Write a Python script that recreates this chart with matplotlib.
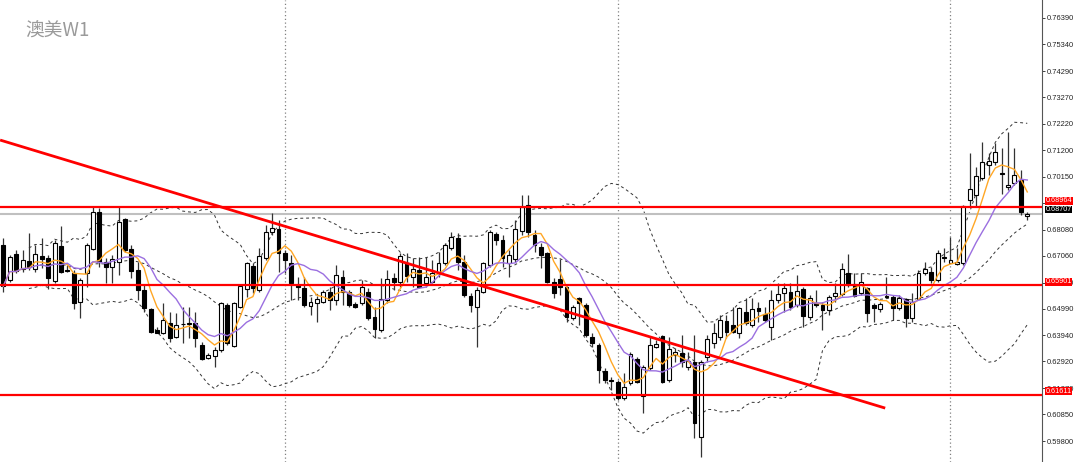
import numpy as np
import pandas as pd
import matplotlib
matplotlib.use('Agg')
import matplotlib.pyplot as plt
import matplotlib.transforms as mtransforms

plt.rcParams['font.family'] = ['Liberation Sans', 'DejaVu Sans']

# AUDUSD weekly candles, oldest first
opens = [0.6748, 0.6611, 0.6713, 0.6654, 0.6685, 0.6654, 0.6705, 0.6697, 0.6607, 0.6744,
         0.6650, 0.6638, 0.6525, 0.6638, 0.6732, 0.6877, 0.6681, 0.6662, 0.6681, 0.6850,
         0.6732, 0.6650, 0.6572, 0.6497, 0.6415, 0.6403, 0.6442, 0.6388, 0.6440, 0.6438,
         0.6442, 0.6356, 0.6305, 0.6313, 0.6337, 0.6513, 0.6352, 0.6505, 0.6575, 0.6666,
         0.6572, 0.6697, 0.6799, 0.6811, 0.6717, 0.6677, 0.6591, 0.6579, 0.6509, 0.6521,
         0.6525, 0.6564, 0.6533, 0.6623, 0.6564, 0.6517, 0.6521, 0.6564, 0.6466, 0.6415,
         0.6533, 0.6619, 0.6603, 0.6677, 0.6623, 0.6650, 0.6599, 0.6603, 0.6638, 0.6677,
         0.6736, 0.6775, 0.6681, 0.6548, 0.6505, 0.6564, 0.6670, 0.6791, 0.6768, 0.6677,
         0.6693, 0.6803, 0.6905, 0.6787, 0.6740, 0.6717, 0.6603, 0.6615, 0.6583, 0.6462,
         0.6540, 0.6513, 0.6388, 0.6356, 0.6254, 0.6219, 0.6211, 0.6148, 0.6207, 0.6301,
         0.6156, 0.6266, 0.6349, 0.6392, 0.6219, 0.6317, 0.6325, 0.6270, 0.6290, 0.5996,
         0.6309, 0.6364, 0.6388, 0.6450, 0.6434, 0.6403, 0.6486, 0.6434, 0.6501, 0.6478,
         0.6427, 0.6533, 0.6560, 0.6564, 0.6513, 0.6575, 0.6466, 0.6521, 0.6513, 0.6493,
         0.6548, 0.6556, 0.6638, 0.6595, 0.6560, 0.6579, 0.6513, 0.6497, 0.6548, 0.6544,
         0.6501, 0.6536, 0.6462, 0.6536, 0.6638, 0.6642, 0.6611, 0.6701, 0.6677, 0.6673,
         0.6677, 0.6924, 0.6944, 0.7010, 0.7061, 0.7073, 0.7030, 0.6975, 0.6991, 0.7003, 0.6861]
highs = [0.6775, 0.6709, 0.6728, 0.6728, 0.6795, 0.6748, 0.6775, 0.6709, 0.6768, 0.6823,
         0.6670, 0.6650, 0.6619, 0.6756, 0.6897, 0.6893, 0.6697, 0.6709, 0.6897, 0.6854,
         0.6748, 0.6681, 0.6591, 0.6501, 0.6427, 0.6521, 0.6486, 0.6482, 0.6505, 0.6505,
         0.6486, 0.6368, 0.6325, 0.6349, 0.6525, 0.6521, 0.6525, 0.6591, 0.6681, 0.6677,
         0.6736, 0.6826, 0.6873, 0.6846, 0.6728, 0.6709, 0.6623, 0.6623, 0.6544, 0.6548,
         0.6572, 0.6583, 0.6670, 0.6650, 0.6572, 0.6525, 0.6611, 0.6579, 0.6505, 0.6619,
         0.6650, 0.6638, 0.6717, 0.6717, 0.6697, 0.6701, 0.6701, 0.6689, 0.6721, 0.6756,
         0.6799, 0.6795, 0.6709, 0.6560, 0.6583, 0.6681, 0.6807, 0.6799, 0.6787, 0.6728,
         0.6846, 0.6944, 0.6944, 0.6807, 0.6756, 0.6721, 0.6619, 0.6693, 0.6587, 0.6513,
         0.6544, 0.6521, 0.6403, 0.6364, 0.6266, 0.6231, 0.6219, 0.6246, 0.6329, 0.6309,
         0.6278, 0.6388, 0.6376, 0.6395, 0.6388, 0.6345, 0.6395, 0.6329, 0.6395, 0.6298,
         0.6395, 0.6442, 0.6474, 0.6474, 0.6505, 0.6505, 0.6540, 0.6540, 0.6525, 0.6505,
         0.6572, 0.6599, 0.6599, 0.6599, 0.6630, 0.6583, 0.6552, 0.6572, 0.6525, 0.6552,
         0.6599, 0.6677, 0.6713, 0.6638, 0.6638, 0.6583, 0.6521, 0.6525, 0.6623, 0.6552,
         0.6552, 0.6540, 0.6560, 0.6650, 0.6681, 0.6662, 0.6728, 0.6736, 0.6779, 0.6736,
         0.6905, 0.7108, 0.7053, 0.7151, 0.7108, 0.7147, 0.7128, 0.7191, 0.7128, 0.7042, 0.6877]
lows = [0.6564, 0.6603, 0.6638, 0.6642, 0.6650, 0.6642, 0.6658, 0.6575, 0.6599, 0.6638,
        0.6642, 0.6497, 0.6462, 0.6583, 0.6728, 0.6662, 0.6599, 0.6599, 0.6630, 0.6721,
        0.6619, 0.6533, 0.6486, 0.6403, 0.6403, 0.6399, 0.6368, 0.6384, 0.6364, 0.6384,
        0.6349, 0.6298, 0.6301, 0.6270, 0.6329, 0.6356, 0.6349, 0.6501, 0.6544, 0.6560,
        0.6564, 0.6689, 0.6787, 0.6642, 0.6638, 0.6533, 0.6533, 0.6505, 0.6474, 0.6446,
        0.6521, 0.6493, 0.6513, 0.6513, 0.6505, 0.6501, 0.6513, 0.6454, 0.6384, 0.6407,
        0.6521, 0.6572, 0.6583, 0.6603, 0.6583, 0.6579, 0.6583, 0.6599, 0.6623, 0.6670,
        0.6728, 0.6650, 0.6544, 0.6486, 0.6349, 0.6560, 0.6662, 0.6748, 0.6662, 0.6623,
        0.6681, 0.6787, 0.6779, 0.6721, 0.6658, 0.6599, 0.6540, 0.6552, 0.6446, 0.6454,
        0.6434, 0.6388, 0.6349, 0.6207, 0.6207, 0.6180, 0.6141, 0.6141, 0.6199, 0.6207,
        0.6090, 0.6258, 0.6345, 0.6207, 0.6211, 0.6290, 0.6270, 0.6258, 0.5992, 0.5918,
        0.6290, 0.6345, 0.6376, 0.6384, 0.6403, 0.6384, 0.6434, 0.6427, 0.6446, 0.6446,
        0.6376, 0.6521, 0.6486, 0.6493, 0.6505, 0.6427, 0.6454, 0.6505, 0.6415, 0.6474,
        0.6525, 0.6548, 0.6583, 0.6544, 0.6552, 0.6446, 0.6446, 0.6486, 0.6540, 0.6454,
        0.6493, 0.6427, 0.6446, 0.6533, 0.6630, 0.6599, 0.6603, 0.6681, 0.6677, 0.6670,
        0.6670, 0.6897, 0.6901, 0.7003, 0.7022, 0.7061, 0.6948, 0.6963, 0.6983, 0.6865, 0.6846]
closes = [0.6587, 0.6700, 0.6646, 0.6689, 0.6662, 0.6713, 0.6693, 0.6619, 0.6756, 0.6642,
          0.6646, 0.6521, 0.6611, 0.6748, 0.6877, 0.6681, 0.6662, 0.6693, 0.6838, 0.6728,
          0.6646, 0.6572, 0.6501, 0.6407, 0.6403, 0.6454, 0.6384, 0.6434, 0.6438, 0.6442,
          0.6384, 0.6301, 0.6317, 0.6337, 0.6521, 0.6364, 0.6521, 0.6587, 0.6677, 0.6579,
          0.6705, 0.6799, 0.6815, 0.6717, 0.6689, 0.6599, 0.6583, 0.6513, 0.6525, 0.6536,
          0.6564, 0.6533, 0.6630, 0.6564, 0.6513, 0.6505, 0.6583, 0.6462, 0.6419, 0.6536,
          0.6615, 0.6603, 0.6705, 0.6627, 0.6654, 0.6583, 0.6623, 0.6638, 0.6677, 0.6748,
          0.6779, 0.6681, 0.6552, 0.6513, 0.6572, 0.6677, 0.6799, 0.6768, 0.6697, 0.6709,
          0.6811, 0.6897, 0.6799, 0.6748, 0.6709, 0.6603, 0.6560, 0.6583, 0.6466, 0.6505,
          0.6521, 0.6395, 0.6364, 0.6258, 0.6219, 0.6215, 0.6148, 0.6191, 0.6321, 0.6211,
          0.6270, 0.6356, 0.6360, 0.6211, 0.6341, 0.6329, 0.6290, 0.6294, 0.6051, 0.6290,
          0.6380, 0.6403, 0.6454, 0.6407, 0.6407, 0.6501, 0.6442, 0.6497, 0.6490, 0.6454,
          0.6533, 0.6556, 0.6579, 0.6505, 0.6568, 0.6470, 0.6540, 0.6513, 0.6493, 0.6544,
          0.6560, 0.6654, 0.6591, 0.6548, 0.6603, 0.6482, 0.6501, 0.6517, 0.6546, 0.6501,
          0.6540, 0.6462, 0.6525, 0.6638, 0.6654, 0.6611, 0.6717, 0.6697, 0.6689, 0.6681,
          0.6901, 0.6967, 0.7018, 0.7073, 0.7077, 0.7112, 0.7026, 0.6983, 0.7022, 0.6877, 0.6871]

# horizontal levels, current bid, trend line, year separators (bar index)
levels = [0.68964, 0.65901, 0.61611]
bid = 0.68707
trend_x = [-0.5, 137.8]
trend_y = [0.7159, 0.6109]
separators = [44, 96, 148]

yticks = [0.76390, 0.75340, 0.74290, 0.73270, 0.72220, 0.71200, 0.70150, 0.69130,
          0.68080, 0.67060, 0.66010, 0.64990, 0.63940, 0.62920, 0.61870, 0.60850, 0.59800]

o = np.array(opens)
h = np.array(highs)
l = np.array(lows)
c = np.array(closes)
idx = np.arange(len(c))

s = pd.Series(c)
ma_fast = s.rolling(5, min_periods=1).mean()
ma_slow = s.rolling(10, min_periods=1).mean()
bb_mid = s.rolling(20, min_periods=5).mean()
bb_sd = s.rolling(20, min_periods=5).std(ddof=0)

fig = plt.figure(figsize=(10.8, 4.62), dpi=100)
ax = fig.add_axes([0, 0, 1042 / 1080, 1])

for x in separators:
    ax.axvline(x, color='#808080', lw=0.9, ls=(0, (1, 2)), zorder=1)

for band in (bb_mid + 2 * bb_sd, bb_mid, bb_mid - 2 * bb_sd):
    ax.plot(idx, band, color='#333333', lw=0.7, ls=(0, (3, 3)), zorder=2)

ax.axhline(bid, color='#c0c0c0', lw=1.5, zorder=2)

up = c >= o
ax.vlines(idx, l, h, color='#333333', lw=0.9, zorder=3)
ax.bar(idx[up], (c - o)[up], bottom=o[up], width=0.62, facecolor='white',
       edgecolor='black', lw=0.8, zorder=4)
ax.bar(idx[~up], (o - c)[~up], bottom=c[~up], width=0.62, facecolor='black',
       edgecolor='black', lw=0.8, zorder=4)

ax.plot(idx, ma_fast, color='#ffa726', lw=1.0, zorder=5)
ax.plot(idx, ma_slow, color='#9b6fe0', lw=1.0, zorder=5)

for lv in levels:
    ax.axhline(lv, color='#ff0000', lw=1.6, zorder=6)
ax.plot(trend_x, trend_y, color='#ff0000', lw=2.0, zorder=6, solid_capstyle='butt')

ax.set_xlim(-0.52, 162.3)
ax.set_ylim(0.58979, 0.77076)

ax.set_xticks([])
ax.yaxis.tick_right()
ax.set_yticks(yticks)
ax.set_yticklabels([f'{v:.5f}' for v in yticks])
ax.tick_params(axis='y', direction='out', length=2.5, width=0.6, pad=1.2,
               labelsize=5.4, colors='#222222')
for side in ('left', 'top', 'bottom'):
    ax.spines[side].set_visible(False)
ax.spines['right'].set_color('#555555')
ax.spines['right'].set_linewidth(0.8)

# price labels on the axis sit just above their line (MT4 style);
# the level next to the bid is stacked above the black bid label
trans = mtransforms.blended_transform_factory(ax.transAxes, ax.transData)
for lv in levels:
    dy = 4.6 if abs(lv - bid) < 0.004 else 2.6
    ax.annotate(f'{lv:.5f}', xy=(1.0035, lv), xycoords=trans, xytext=(0, dy),
                textcoords='offset points', fontsize=5.2, color='white',
                va='center', ha='left', annotation_clip=False, zorder=10,
                bbox=dict(facecolor='#ff0000', edgecolor='none', pad=0.3))
ax.annotate(f'{bid:.5f}', xy=(1.0035, bid), xycoords=trans, xytext=(0, 3.0),
            textcoords='offset points', fontsize=5.2, color='white',
            va='center', ha='left', annotation_clip=False, zorder=9,
            bbox=dict(facecolor='black', edgecolor='none', pad=0.3))

fig.text(25 / 1080, 1 - 31 / 462, '澳美W1', fontsize=13.5, color='#9a9a9a',
         va='center', ha='left', family=['Noto Sans CJK SC', 'DejaVu Sans'])

fig.savefig('out.png', dpi=100)
